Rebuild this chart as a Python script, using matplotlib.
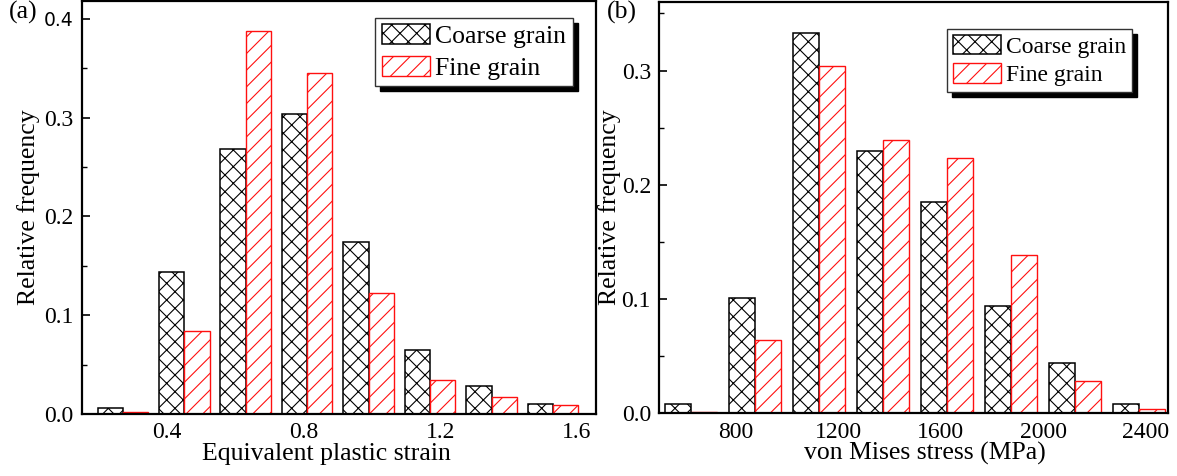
import matplotlib
matplotlib.use('Agg')
import matplotlib.pyplot as plt
from matplotlib.ticker import MultipleLocator
import numpy as np

plt.rcParams['font.family'] = ['Liberation Serif', 'DejaVu Serif']
plt.rcParams['hatch.linewidth'] = 0.8

# ---- data ----
strain_centers = [0.27, 0.45, 0.63, 0.81, 0.99, 1.17, 1.35, 1.53]
strain_coarse = [0.0064, 0.144, 0.268, 0.304, 0.174, 0.065, 0.0287, 0.0098]
strain_fine = [0.0017, 0.0836, 0.388, 0.345, 0.122, 0.0344, 0.0175, 0.0088]
strain_ticks = [0.4, 0.8, 1.2, 1.6]

stress_centers = [625, 875, 1125, 1375, 1625, 1875, 2125, 2375]
stress_coarse = [0.0079, 0.101, 0.333, 0.230, 0.185, 0.094, 0.0437, 0.0079]
stress_fine = [0.001, 0.064, 0.304, 0.239, 0.2236, 0.1388, 0.0286, 0.0035]
stress_ticks = [800, 1200, 1600, 2000, 2400]

series_labels = ['Coarse grain', 'Fine grain']

W, H = 1177, 476
fig = plt.figure(figsize=(W / 100, H / 100), dpi=100)

ax1 = fig.add_axes([82 / W, (H - 414) / H, 514 / W, 413 / H])
ax2 = fig.add_axes([659.3 / W, (H - 413.3) / H, 508.7 / W, 411.3 / H])


def draw(ax, centers, coarse, fine, w, xticks, xlim, ylim, yticks, xlabel,
         xlabel_x, ylabel_x, leg_anchor, leg_fs, leg_ls):
    x = np.asarray(centers, dtype=float)
    ax.bar(x - w / 2, coarse, width=w, facecolor='white', edgecolor='black',
           hatch='xx', linewidth=1.1, label=series_labels[0], zorder=2)
    ax.bar(x + w / 2, fine, width=w, facecolor='white', edgecolor='#ff1010',
           hatch='//', linewidth=1.0, label=series_labels[1], zorder=2)
    ax.set_xlim(*xlim)
    ax.set_ylim(*ylim)
    ax.set_xticks(xticks)
    ax.set_xticklabels([str(t) for t in xticks])
    ax.set_yticks(yticks)
    ax.set_yticklabels(['%.1f' % t for t in yticks])
    ax.yaxis.set_minor_locator(MultipleLocator(0.05))
    ax.tick_params(axis='y', which='major', direction='in', length=6,
                   width=1.2, labelsize=17, pad=6)
    ax.tick_params(axis='y', which='minor', direction='in', length=3.5,
                   width=1.0)
    ax.tick_params(axis='x', which='both', length=0, labelsize=17, pad=6)
    for s in ax.spines.values():
        s.set_linewidth(1.6)
    ax.set_xlabel(xlabel, fontsize=18.5)
    ax.set_ylabel('Relative frequency', fontsize=18.5)
    ax.xaxis.set_label_coords(xlabel_x, -0.07)
    ax.yaxis.set_label_coords(ylabel_x, 0.5)
    leg = ax.legend(loc='upper right', bbox_to_anchor=leg_anchor,
                    borderaxespad=0, fontsize=leg_fs, fancybox=False,
                    framealpha=1, edgecolor='#333333',
                    handlelength=48 / (leg_fs * 100 / 72),
                    handleheight=21 / (leg_fs * 100 / 72),
                    handletextpad=0.22, borderpad=0.25, labelspacing=leg_ls,
                    shadow={'ox': 3.6, 'oy': -3.6, 'facecolor': 'black',
                            'edgecolor': 'black', 'alpha': 1})
    leg.get_frame().set_linewidth(1.0)
    return leg


draw(ax1, strain_centers, strain_coarse, strain_fine, 0.074, strain_ticks,
     (0.1505, 1.6557), (0, 0.418), [0.0, 0.1, 0.2, 0.3, 0.4],
     'Equivalent plastic strain', 0.475, -0.082, (0.955, 0.959), 18.5, 0.3)
draw(ax2, stress_centers, stress_coarse, stress_fine, 102, stress_ticks,
     (502, 2487), (0, 0.36), [0.0, 0.1, 0.2, 0.3],
     'von Mises stress (MPa)', 0.522, -0.076, (0.929, 0.934), 17.0, 0.22)

# the top tick label of panel (a) is set in a different, sans font
top_lbl = ax1.get_yticklabels()[-1]
top_lbl.set_fontfamily('DejaVu Sans')
top_lbl.set_fontsize(13.5)

fig.text(9 / W, 1 - 0.5 / H, '(a)', fontsize=18.5, ha='left', va='top')
fig.text(607 / W, 1 - 0.5 / H, '(b)', fontsize=18.5, ha='left', va='top')

fig.savefig('out.png', dpi=100)
